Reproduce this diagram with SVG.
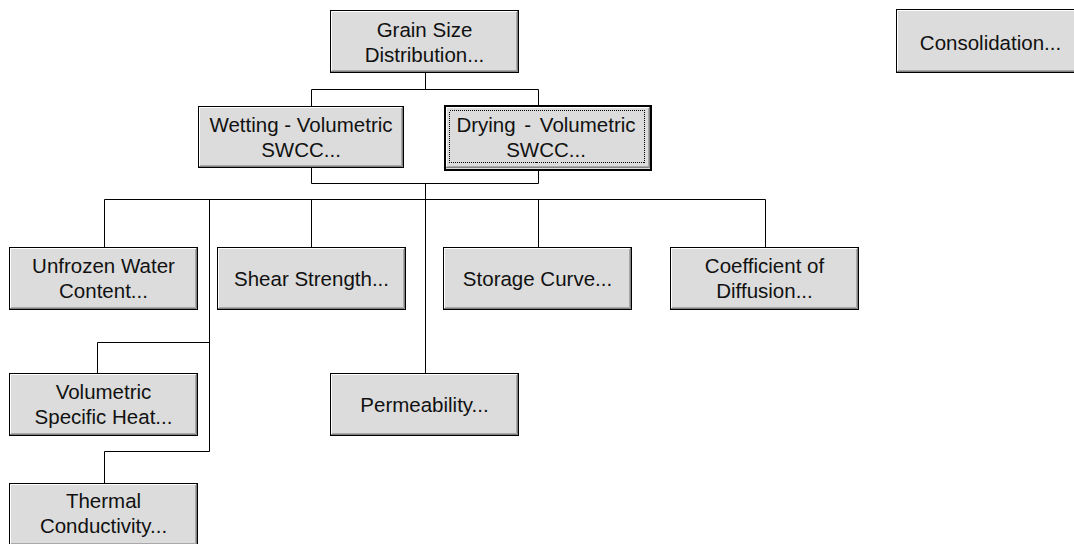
<svg xmlns="http://www.w3.org/2000/svg" xmlns:xlink="http://www.w3.org/1999/xlink" width="1074" height="544" viewBox="0 0 1074 544">
<style>
text{font-family:"Liberation Sans",Arial,sans-serif;font-size:20.5px;fill:#111;text-anchor:middle}
.face{fill:#dcdcdc;stroke:#000;stroke-width:1}
.hi{fill:none;stroke:#fff;stroke-width:1}
.sh{fill:none;stroke:#808080;stroke-width:1}
.sh2{fill:none;stroke:#a8a8a8;stroke-width:1}
.conn{fill:none;stroke:#000;stroke-width:1}
.focus{fill:none;stroke:#000;stroke-width:1;stroke-dasharray:1 1;shape-rendering:crispEdges}
</style>
<defs>
<g id="btn">
<rect class="face" x="0.5" y="0.5" width="188" height="62"/>
<path class="hi" d="M1.5 61V1.5H187"/>
<path class="sh" d="M1 61.5H187.5V1"/>
<path class="sh2" d="M2 60.5H186.5V2"/>
</g>
</defs>
<rect width="1074" height="544" fill="#fff"/>
<g id="connectors">
<path class="conn" d="M425.5 73V89.5M311.5 106V89.5H538.5V105"/>
<path class="conn" d="M311.5 168V183.5H538.5V171M425.5 183.5V199.5"/>
<path class="conn" d="M104.5 247V199.5H765.5V247"/>
<path class="conn" d="M209.5 199.5V451.5H104.5V483"/>
<path class="conn" d="M209.5 342.5H97.5V373"/>
<path class="conn" d="M311.5 199.5V247M425.5 199.5V373M538.5 199.5V247"/>
</g>
<g id="grain" transform="translate(330,10)">
<use xlink:href="#btn"/>
<text x="94.5" y="27">Grain Size</text>
<text x="94.5" y="52">Distribution...</text>
</g>
<g id="consolidation" transform="translate(896,9)">
<rect class="face" x="0.5" y="0.5" width="188" height="63"/>
<path class="hi" d="M1.5 62V1.5H187"/>
<path class="sh" d="M1 62.5H187.5V1"/>
<path class="sh2" d="M2 61.5H186.5V2"/>
<text x="94.5" y="40.5">Consolidation...</text>
</g>
<g id="wetting" transform="translate(198,106)">
<rect class="face" x="0.5" y="0.5" width="205" height="61"/>
<path class="hi" d="M1.5 60V1.5H204"/>
<path class="sh" d="M1 60.5H204.5V1"/>
<path class="sh2" d="M2 59.5H203.5V2"/>
<text x="103" y="25.5">Wetting - Volumetric</text>
<text x="103" y="51">SWCC...</text>
</g>
<g id="drying" transform="translate(444,105)">
<rect x="1" y="1" width="206" height="64" fill="#dcdcdc" stroke="#000" stroke-width="2"/>
<path class="hi" d="M2.5 62V2.5H205"/>
<path class="sh" d="M2 62.5H205.5V2"/>
<path class="sh2" d="M3 61.5H204.5V3"/>
<rect class="focus" x="5.5" y="5.5" width="195" height="52"/>
<text x="102" y="26.5" style="word-spacing:3px">Drying - Volumetric</text>
<text x="102" y="52">SWCC...</text>
</g>
<g id="unfrozen" transform="translate(9,247)">
<use xlink:href="#btn"/>
<text x="94.5" y="26">Unfrozen Water</text>
<text x="94.5" y="51">Content...</text>
</g>
<g id="shear" transform="translate(217,247)">
<use xlink:href="#btn"/>
<text x="94.5" y="39">Shear Strength...</text>
</g>
<g id="storage" transform="translate(443,247)">
<use xlink:href="#btn"/>
<text x="94.5" y="39">Storage Curve...</text>
</g>
<g id="coefficient" transform="translate(670,247)">
<use xlink:href="#btn"/>
<text x="94.5" y="26">Coefficient of</text>
<text x="94.5" y="51">Diffusion...</text>
</g>
<g id="volumetric" transform="translate(9,373)">
<use xlink:href="#btn"/>
<text x="94.5" y="26">Volumetric</text>
<text x="94.5" y="51">Specific Heat...</text>
</g>
<g id="permeability" transform="translate(330,373)">
<use xlink:href="#btn"/>
<text x="94.5" y="39">Permeability...</text>
</g>
<g id="thermal" transform="translate(9,483)">
<use xlink:href="#btn"/>
<text x="94.5" y="25">Thermal</text>
<text x="94.5" y="50">Conductivity...</text>
</g>
</svg>
